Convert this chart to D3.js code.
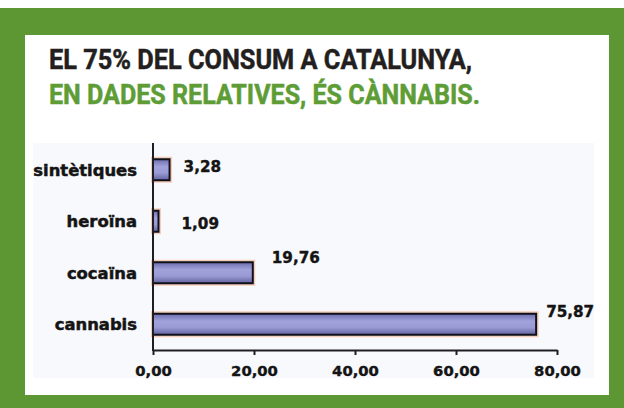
<!DOCTYPE html>
<html><head><meta charset="utf-8">
<script src="https://cdn.jsdelivr.net/npm/d3@7"></script>
<style>html,body{margin:0;padding:0;background:#fff;}svg{display:block;}</style>
</head><body>
<script>
// ---- data ----
const categories = ["sintètiques", "heroïna", "cocaïna", "cannabis"];
const values = [3.28, 1.09, 19.76, 75.87];
const valueLabels = ["3,28", "1,09", "19,76", "75,87"];
const xTicks = [0, 20, 40, 60, 80];
const titleLine1 = "EL 75% DEL CONSUM A CATALUNYA,";
const titleLine2 = "EN DADES RELATIVES, ÉS CÀNNABIS.";
// label nudges (px) relative to bar end / band centre
const labelDx = [14, 23, 19, 10];
const labelDy = [2, 8, -10, -7];

const W = 624, H = 408;
const svg = d3.select("body").append("svg").attr("width", W).attr("height", H);

const defs = svg.append("defs");
const grad = defs.append("linearGradient").attr("id", "barGrad").attr("x1", 0).attr("y1", 0).attr("x2", 0).attr("y2", 1);
grad.append("stop").attr("offset", "0%").attr("stop-color", "#6b6cae");
grad.append("stop").attr("offset", "35%").attr("stop-color", "#a1a2da");
grad.append("stop").attr("offset", "65%").attr("stop-color", "#9a9bd5");
grad.append("stop").attr("offset", "100%").attr("stop-color", "#62639f");

// frame
svg.append("rect").attr("x", 0).attr("y", 0).attr("width", W).attr("height", H).attr("fill", "#ffffff");
svg.append("rect").attr("x", 0).attr("y", 8).attr("width", W).attr("height", H - 8).attr("fill", "#5d9733");
svg.append("rect").attr("x", 25).attr("y", 35).attr("width", 584).attr("height", 360).attr("fill", "#ffffff");

// title
svg.append("text").attr("x", 49).attr("y", 69)
  .attr("font-family", "Roboto, 'Liberation Sans', sans-serif").attr("font-weight", 700)
  .attr("font-size", 27).attr("fill", "#231f20").attr("stroke", "#231f20").attr("stroke-width", 0.5)
  .attr("textLength", 423).attr("lengthAdjust", "spacingAndGlyphs")
  .text(titleLine1);
svg.append("text").attr("x", 49).attr("y", 104)
  .attr("font-family", "Roboto, 'Liberation Sans', sans-serif").attr("font-weight", 700)
  .attr("font-size", 27).attr("fill", "#5e9d36").attr("stroke", "#5e9d36").attr("stroke-width", 0.5)
  .attr("textLength", 431).attr("lengthAdjust", "spacingAndGlyphs")
  .text(titleLine2);

// chart background
svg.append("rect").attr("x", 33).attr("y", 143).attr("width", 561).attr("height", 235).attr("fill", "#f8f9fc");

const x = d3.scaleLinear().domain([0, 80]).range([153, 557]);
const y = d3.scaleBand().domain(categories).range([144, 350]).paddingInner(0.592).paddingOuter(0.296);

const font = "'DejaVu Sans', Verdana, sans-serif";
const g = svg.append("g");

// bar halo
g.selectAll("rect.halo").data(categories).enter().append("rect")
  .attr("class", "halo")
  .attr("x", x(0) - 1).attr("y", d => y(d) - 1.5)
  .attr("width", (d, i) => x(values[i]) - x(0) + 2.5)
  .attr("height", y.bandwidth() + 3)
  .attr("fill", "none").attr("stroke", "#f3cdb9").attr("stroke-width", 2);

// bars
g.selectAll("rect.bar").data(categories).enter().append("rect")
  .attr("class", "bar")
  .attr("x", x(0)).attr("y", d => y(d))
  .attr("width", (d, i) => x(values[i]) - x(0))
  .attr("height", y.bandwidth())
  .attr("fill", "url(#barGrad)").attr("stroke", "#10101a").attr("stroke-width", 2);

// x axis
const xAxis = d3.axisBottom(x).tickValues(xTicks)
  .tickFormat(d => d3.format(".2f")(d).replace(".", ","))
  .tickSize(5).tickPadding(10).tickSizeOuter(0);
const ax = svg.append("g").attr("transform", "translate(0,350)").call(xAxis);
ax.select(".domain").attr("stroke", "#1e1e24").attr("stroke-width", 2);
ax.selectAll(".tick line").attr("stroke", "#1e1e24").attr("stroke-width", 2);
ax.selectAll(".tick text").attr("font-family", font).attr("font-weight", 700)
  .attr("font-size", 14.8).attr("fill", "#141414").attr("stroke", "#141414").attr("stroke-width", 0.4);

// y axis
const yAxis = d3.axisLeft(y).tickSize(0).tickPadding(16);
const ay = svg.append("g").attr("transform", "translate(153,0)").call(yAxis);
ay.select(".domain").attr("d", "M0,143V351").attr("stroke", "#1e1e24").attr("stroke-width", 2);
ay.selectAll(".tick text").attr("font-family", font).attr("font-weight", 700)
  .attr("font-size", 16.4).attr("fill", "#141414").attr("stroke", "#141414").attr("stroke-width", 0.5)
  .attr("dy", "0.36em");

// value labels
g.selectAll("text.val").data(categories).enter().append("text")
  .attr("class", "val")
  .attr("x", (d, i) => x(values[i]) + labelDx[i])
  .attr("y", (d, i) => y(d) + y.bandwidth() / 2 + labelDy[i])
  .attr("font-family", font).attr("font-weight", 700).attr("font-size", 15.2)
  .attr("fill", "#141414").attr("stroke", "#141414").attr("stroke-width", 0.4)
  .text((d, i) => valueLabels[i]);
</script>
</body></html>
